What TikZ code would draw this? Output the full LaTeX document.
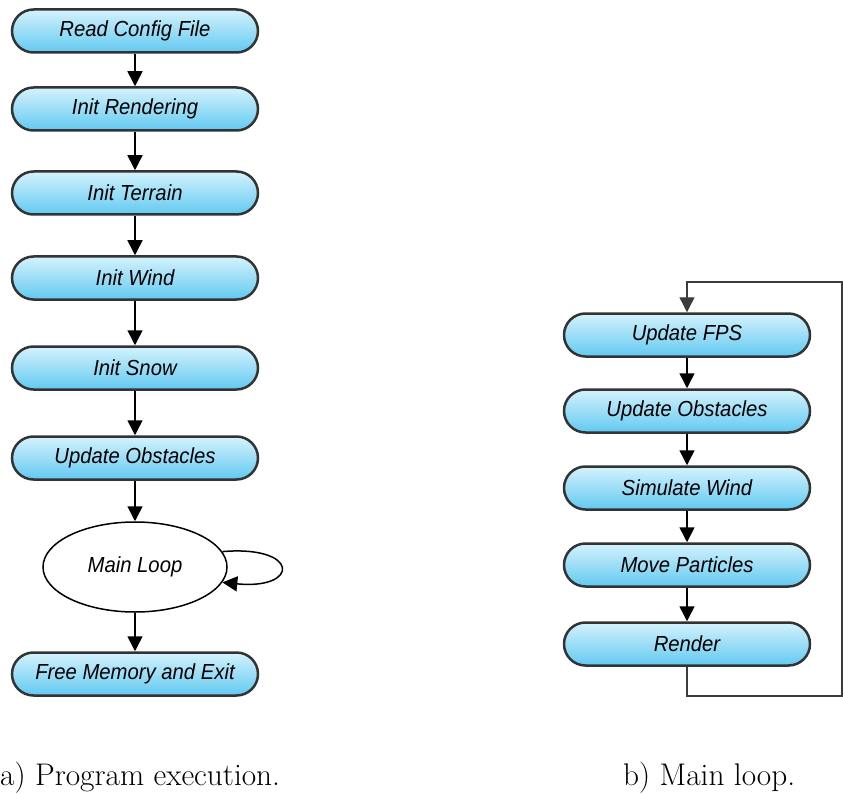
\documentclass[tikz,border=0pt]{standalone}
\usepackage{fontspec}
\newfontfamily\boxfont[FakeStretch=0.93]{Liberation Sans}
\usetikzlibrary{shapes.geometric,arrows.meta}
\definecolor{boxtop}{HTML}{D4F2FC}
\definecolor{boxbot}{HTML}{62C9F1}
\definecolor{boxedge}{HTML}{333333}
\definecolor{loopgray}{HTML}{3C3C3C}
\begin{document}
\begin{tikzpicture}[x=1pt,y=-1pt,
  proc/.style={rectangle, rounded corners=21.5pt, minimum width=246pt, minimum height=43pt,
    inner sep=0pt, draw=boxedge, line width=2.5pt, top color=boxtop, bottom color=boxbot,
    font=\boxfont\itshape\fontsize{21.8}{26}\selectfont, text=black},
  loopnode/.style={ellipse, draw=black, line width=1.5pt, minimum width=184pt, minimum height=90pt,
    inner sep=0pt, fill=white, font=\boxfont\itshape\fontsize{21.8}{26}\selectfont},
  arr/.style={-{Triangle[width=15pt,length=15pt]}, line width=1.5pt, draw=black},
  looparr/.style={-{Triangle[width=15pt,length=15pt]}, line width=1.3pt, draw=loopgray},
  caption/.style={anchor=base west, inner sep=0pt, font=\fontsize{31.3}{36}\selectfont}]
\useasboundingbox (0,0) rectangle (843,794);

% left column
\node[proc] (a1) at (135,31)  {Read Config File};
\node[proc] (a2) at (135,109) {Init Rendering};
\node[proc] (a3) at (135,193) {Init Terrain};
\node[proc] (a4) at (135,278) {Init Wind};
\node[proc] (a5) at (135,368) {Init Snow};
\node[proc] (a6) at (135,458) {Update Obstacles};
\node[loopnode] (ml) at (135,567) {Main Loop};
\node[proc] (a8) at (135,674) {Free Memory and Exit};

\draw[arr] (a1) -- (a2);
\draw[arr] (a2) -- (a3);
\draw[arr] (a3) -- (a4);
\draw[arr] (a4) -- (a5);
\draw[arr] (a5) -- (a6);
\draw[arr] (a6.south) -- (ml.north);
\draw[arr] (ml.south) -- (a8.north);
\draw[arr] (ml.10) .. controls (300,545) and (300,590) .. (ml.-10);

% right column
\node[proc] (b1) at (687,335) {Update FPS};
\node[proc] (b2) at (687,411) {Update Obstacles};
\node[proc] (b3) at (687,488) {Simulate Wind};
\node[proc] (b4) at (687,565) {Move Particles};
\node[proc] (b5) at (687,644) {Render};

\draw[arr] (b1) -- (b2);
\draw[arr] (b2) -- (b3);
\draw[arr] (b3) -- (b4);
\draw[arr] (b4) -- (b5);

\coordinate (c1) at (687,696);
\coordinate (c2) at (842,696);
\coordinate (c3) at (842,282);
\coordinate (c4) at (687,282);
\draw[looparr] (b5.south) -- (c1) -- (c2) -- (c3) -- (c4) -- (b1.north);

% captions
\node[caption] (capa) at (0,785) {a) Program execution.};
\node[caption] (capb) at (623,785) {b) Main loop.};
\end{tikzpicture}
\end{document}
